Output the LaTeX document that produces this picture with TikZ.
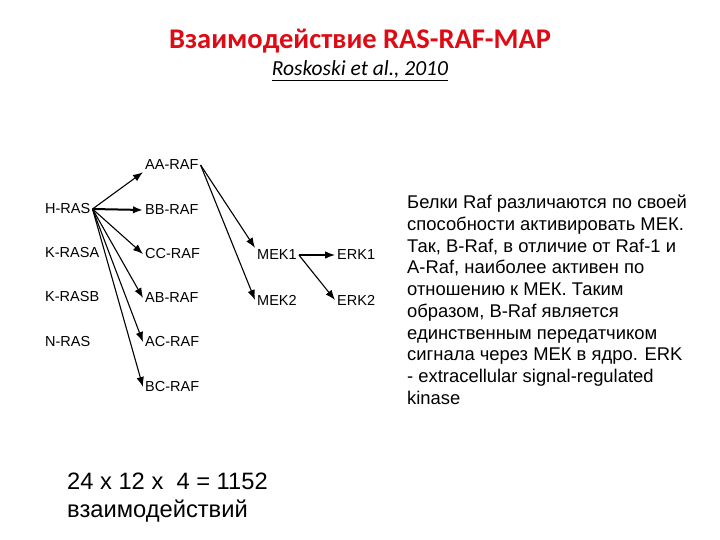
\documentclass[tikz,border=0pt]{standalone}
\usepackage{fontspec}
\setmainfont{Liberation Sans}
\newfontfamily\calibri{Carlito}
\usepackage{xcolor}
\usetikzlibrary{arrows.meta}

\definecolor{titlered}{RGB}{222,10,20}

\tikzset{
  gene/.style={anchor=west,inner sep=2pt,font=\fontsize{14.5}{17}\selectfont},
  link/.style={->,line width=1.1pt},
}

\begin{document}
\begin{tikzpicture}[x=1pt,y=-1pt,>={Latex[length=10pt,width=7.5pt]}]
\useasboundingbox (0,0) rectangle (720,540);
%title
\node[anchor=base,text=titlered,font=\calibri\bfseries\fontsize{28.5}{32}\selectfont] (title) at (360,49) {Взаимодействие RAS-RAF-MAP};
\node[anchor=base,font=\calibri\itshape\fontsize{21.5}{24}\selectfont] (cite) at (360,76) {\underline{Roskoski et al., 2010}};
%RAS column
\node[gene] (hras) at (43,209) {H-RAS};
\node[gene] (krasa) at (43,253) {K-RASA};
\node[gene] (krasb) at (43,297) {K-RASB};
\node[gene] (nras) at (43,342) {N-RAS};
%RAF column
\node[gene] (aaraf) at (143,165) {AA-RAF};
\node[gene] (bbraf) at (143,210) {BB-RAF};
\node[gene] (ccraf) at (143,254) {CC-RAF};
\node[gene] (abraf) at (143,298) {AB-RAF};
\node[gene] (acraf) at (143,342) {AC-RAF};
\node[gene] (bcraf) at (143,387) {BC-RAF};
%MEK and ERK
\node[gene] (mek1) at (255,255) {MEK1};
\node[gene] (mek2) at (255,300) {MEK2};
\node[gene] (erk1) at (335,255) {ERK1};
\node[gene] (erk2) at (335,300) {ERK2};
%arrows
\draw[link] (hras.east) -- (aaraf.south west);
\draw[link,line width=2pt] (hras.east) -- (bbraf.west);
\foreach \r in {ccraf,abraf,acraf,bcraf}
  \draw[link] (hras.east) -- (\r.west);
\draw[link] (aaraf.east) -- (mek1.north west);
\draw[link] (aaraf.east) -- (mek2.west);
\draw[link] (mek1.east) -- (erk1.west);
\draw[link] (mek1.east) -- (erk2.west);
%notes
\node[anchor=north west,inner sep=0pt,align=left,font=\fontsize{18.4}{21.7}\selectfont] (note) at (407,195) {Белки Raf различаются по своей\\способности активировать МЕК.\\Так, B-Raf, в отличие от Raf-1 и\\A-Raf, наиболее активен по\\отношению к МЕК. Таким\\образом, B-Raf является\\единственным передатчиком\\сигнала через МЕК в ядро. ERK\\- extracellular signal-regulated\\kinase};
\node[anchor=north west,inner sep=0pt,align=left,font=\fontsize{23.7}{28}\selectfont] (count) at (67,473) {24 x 12 x~ 4 = 1152\\взаимодействий};
\end{tikzpicture}
\end{document}
